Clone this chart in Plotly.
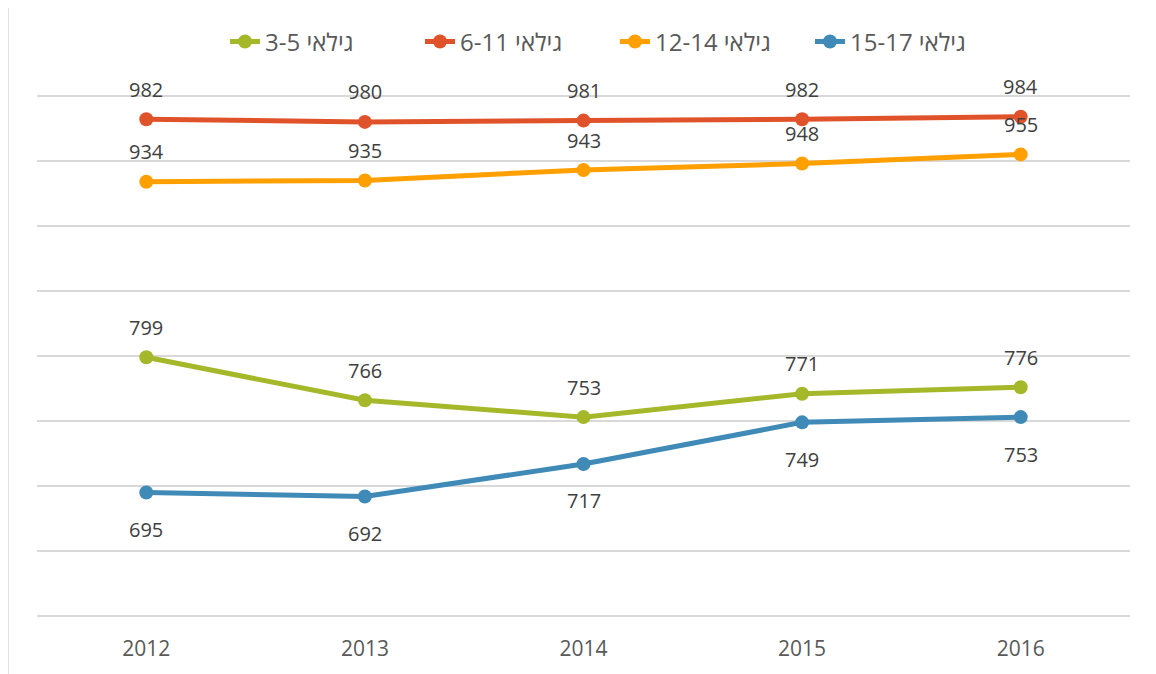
import plotly.graph_objects as go

years = ["2012", "2013", "2014", "2015", "2016"]
series_names = ["גילאי 3-5", "גילאי 6-11", "גילאי 12-14", "גילאי 15-17"]
age_3_5 = [799, 766, 753, 771, 776]
age_6_11 = [982, 980, 981, 982, 984]
age_12_14 = [934, 935, 943, 948, 955]
age_15_17 = [695, 692, 717, 749, 753]
colors = ["#A5B82A", "#E0532A", "#FF9F00", "#3F8AB6"]
label_side = ["top", "top", "top", "bottom"]

all_values = [age_3_5, age_6_11, age_12_14, age_15_17]
FONT = "Open Sans, Noto Sans, DejaVu Sans"

fig = go.Figure()
annotations = []
for name, vals, col, side in zip(series_names, all_values, colors, label_side):
    fig.add_trace(go.Scatter(
        x=years, y=vals, name=name, mode="lines+markers",
        line=dict(color=col, width=5),
        marker=dict(color=col, size=14),
        cliponaxis=False,
    ))
    for i, yv in enumerate(vals):
        annotations.append(dict(
            x=i, y=yv, xref="x", yref="y", text=str(yv), showarrow=False,
            yshift=30 if side == "top" else -37,
            font=dict(size=20, color="#404040", family=FONT),
        ))

fig.update_layout(
    width=1148, height=666,
    margin=dict(l=29, r=26, t=84, b=54),
    paper_bgcolor="white", plot_bgcolor="white",
    font=dict(family=FONT, color="#595959"),
    showlegend=True,
    legend=dict(orientation="h", x=0.172, xanchor="left", y=0.949, yref="container",
                yanchor="middle", font=dict(size=24, color="#595959"),
                entrywidth=150, entrywidthmode="pixels", traceorder="normal"),
    annotations=annotations,
    xaxis=dict(type="category", range=[-0.5, 4.5], showgrid=False, showline=False,
               ticks="", tickfont=dict(size=21, color="#595959"), ticklabelstandoff=14,
               automargin=False),
    yaxis=dict(range=[597, 1003], dtick=50, tick0=600, showticklabels=False, showgrid=True,
               gridcolor="#D9D9D9", gridwidth=1.5, zeroline=False, showline=False,
               automargin=False),
    shapes=[dict(type="line", xref="paper", yref="paper",
                 x0=-0.0265, x1=-0.0265, y0=1.18, y1=-0.104,
                 line=dict(color="#D9D9D9", width=1.5))],
)

fig.write_html("out.html")
